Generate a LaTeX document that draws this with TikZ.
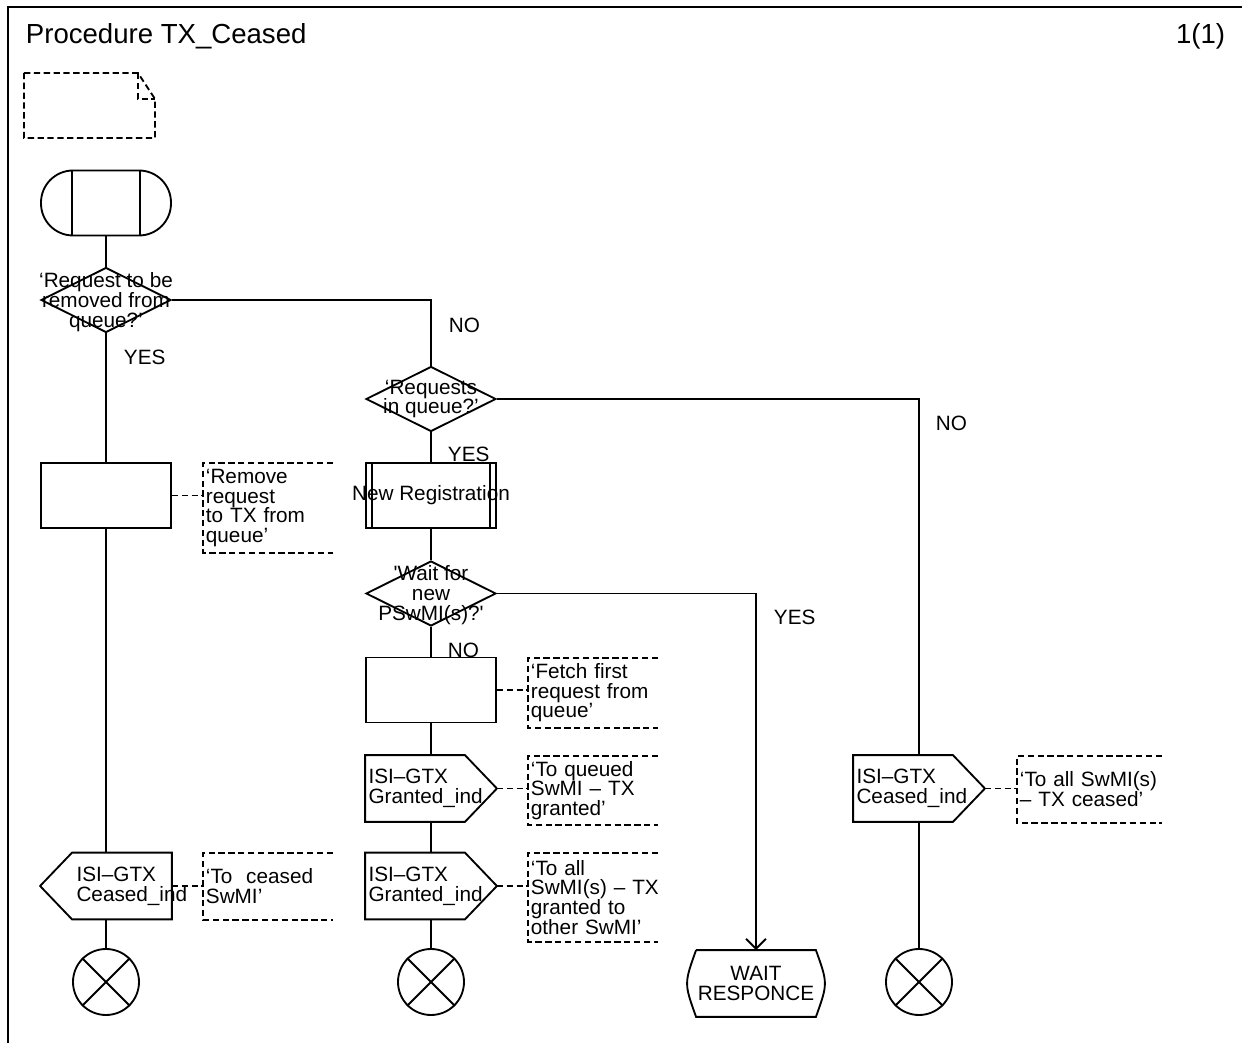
\documentclass[tikz,border=0pt]{standalone}
\usepackage{fontspec}
\setmainfont{Liberation Sans}
\usetikzlibrary{shapes.geometric,arrows.meta}

\begin{document}
\begin{tikzpicture}[x=0.02cm, y=-0.02cm, line width=1.05pt,
  every node/.style={font=\fontsize{11.8}{11.2}\selectfont}]
  \tikzstyle{task}=[rectangle, draw, minimum width=2.6cm, minimum height=1.3cm, inner sep=0pt]
  \tikzstyle{decision}=[diamond, draw, minimum width=2.6cm, minimum height=1.3cm, inner sep=0pt]
  \tikzstyle{dtext}=[align=center, inner sep=0pt]
  \tikzstyle{sig}=[rectangle, minimum width=2.6cm, minimum height=1.3cm, text width=2.5cm,
                   inner xsep=0.05cm, inner ysep=0pt, align=left]
  \tikzstyle{note}=[rectangle, anchor=north west, text width=2.9cm, inner xsep=0.04cm,
                    inner ysep=0pt, align=left]
  \tikzstyle{stopper}=[circle, draw, minimum size=1.32cm, inner sep=0pt]
  \tikzstyle{yesno}=[anchor=west, inner sep=0pt]
  \tikzstyle{conn}=[dash pattern=on 3.6pt off 2pt]
  \tikzstyle{flow}=[-{Straight Barb[length=0.2cm, width=0.4cm]}]

  \useasboundingbox (0,0) rectangle (1242,1043);

  % Moldura e titulo
  \draw[line width=1.3pt] (8,1043) -- (8,7) -- (1242,7);
  \node[anchor=base west, inner sep=0pt, font=\fontsize{15.7}{18}\selectfont] (title) at (25,44) {Procedure TX\_Ceased};
  \node[anchor=base east, inner sep=0pt, font=\fontsize{15.7}{18}\selectfont] (page) at (1226,44) {1(1)};

  % Simbolo de texto
  \draw[conn] (24,73) -- (138,73) -- (155,99) -- (155,138) -- (24,138) -- cycle;
  \draw[conn] (138,73) -- (138,99) -- (155,99);

  % Inicio
  \node[task, rounded corners=0.64cm] (begin) at (106,203) {};
  \draw ([xshift=0.64cm]begin.north west) -- ([xshift=0.64cm]begin.south west);
  \draw ([xshift=-0.64cm]begin.north east) -- ([xshift=-0.64cm]begin.south east);

  % Coluna 1
  \node[decision] (ask1) at (106,300) {};
  \node[dtext] (ask1txt) at (106,302) {‘Request to be\\removed from\\queue?’};
  \node[yesno] (yes1) at (123,357) {YES};
  \node[task] (remove) at (106,495.5) {};
  \node[note, minimum height=1.76cm] (removenote) at (203,463) {‘Remove\\request\\to TX from\\queue’};
  \node[sig] (ceased1) at (106,886) {\hspace*{0.66cm}ISI–GTX\\\hspace*{0.66cm}Ceased\_ind};
  \node[note, minimum height=1.3cm] (ceasednote) at (203,853) {‘To\ \ ceased\\SwMI’};
  \node[stopper] (end1) at (106,982) {};

  \draw (ceased1.west) -- ([xshift=0.64cm]ceased1.north west) -- (ceased1.north east)
    -- (ceased1.south east) -- ([xshift=0.64cm]ceased1.south west) -- cycle;
  \draw (end1.north west) -- (end1.south east) (end1.north east) -- (end1.south west);

  \draw (begin.south) -- (ask1.north);
  \draw (ask1.south) -- (remove.north);
  \draw (remove.south) -- (ceased1.north);
  \draw (ceased1.south) -- (end1.north);

  % Coluna 2
  \node[yesno] (no1) at (448,325) {NO};
  \node[decision] (ask2) at (431,399) {};
  \node[dtext] (ask2txt) at (ask2) {‘Requests\\in queue?’};
  \node[yesno] (yes2) at (447,454) {YES};
  \node[task] (newreg) at (431,495.5) {\makebox[0pt]{New Registration}};
  \draw ([xshift=0.13cm]newreg.north west) -- ([xshift=0.13cm]newreg.south west);
  \draw ([xshift=-0.13cm]newreg.north east) -- ([xshift=-0.13cm]newreg.south east);
  \node[decision] (ask3) at (431,593.5) {};
  \node[dtext] (ask3txt) at (431,595) {\textquotesingle Wait for\\new\\PSwMI(s)?\textquotesingle};
  \node[yesno] (no2) at (447,650) {NO};
  \node[task] (fetch) at (431,690) {};
  \node[note, minimum height=1.36cm] (fetchnote) at (528,658) {‘Fetch first\\request from\\queue’};
  \node[sig] (granted1) at (431,788.5) {ISI–GTX\\Granted\_ind};
  \node[note, minimum height=1.34cm] (queuednote) at (528,756) {‘To queued\\SwMI – TX\\granted’};
  \node[sig] (granted2) at (431,886) {ISI–GTX\\Granted\_ind};
  \node[note, minimum height=1.74cm] (othernote) at (528,853) {‘To all\\SwMI(s) – TX\\granted to\\other SwMI’};
  \node[stopper] (end2) at (431,982) {};

  \foreach \s in {granted1, granted2}
    \draw (\s.north west) -- ([xshift=-0.64cm]\s.north east) -- (\s.east)
      -- ([xshift=-0.64cm]\s.south east) -- (\s.south west) -- cycle;
  \draw (end2.north west) -- (end2.south east) (end2.north east) -- (end2.south west);

  \draw (ask1.east) -| (ask2.north);
  \draw (ask2.south) -- (newreg.north);
  \draw (newreg.south) -- (ask3.north);
  \draw (ask3.south) -- (fetch.north);
  \draw (fetch.south) -- (granted1.north);
  \draw (granted1.south) -- (granted2.north);
  \draw (granted2.south) -- (end2.north);

  % Coluna 3
  \node[yesno] (yes3) at (773,617) {YES};
  \node[rectangle, minimum width=2.6cm, minimum height=1.3cm, align=center, inner sep=0pt]
    (wait) at (756,983.5) {WAIT\\RESPONCE};
  \draw ([xshift=0.12cm]wait.north west) -- ([xshift=-0.12cm]wait.north east)
    .. controls ([xshift=0.12cm]wait.east) .. ([xshift=-0.12cm]wait.south east)
    -- ([xshift=0.12cm]wait.south west)
    .. controls ([xshift=-0.12cm]wait.west) .. ([xshift=0.12cm]wait.north west);
  \draw[flow] (ask3.east) -| (wait.north);

  % Coluna 4
  \node[yesno] (no3) at (935,423) {NO};
  \node[sig] (ceased2) at (919,788.5) {ISI–GTX\\Ceased\_ind};
  \node[note, minimum height=1.3cm] (allnote) at (1017,756) {‘To all SwMI(s)\\– TX ceased’};
  \node[stopper] (end4) at (919,982) {};

  \draw (ceased2.north west) -- ([xshift=-0.64cm]ceased2.north east) -- (ceased2.east)
    -- ([xshift=-0.64cm]ceased2.south east) -- (ceased2.south west) -- cycle;
  \draw (end4.north west) -- (end4.south east) (end4.north east) -- (end4.south west);

  \draw (ask2.east) -| (ceased2.north);
  \draw (ceased2.south) -- (end4.north);

  % Comentarios tracejados
  \foreach \n/\w in {removenote/2.6cm, ceasednote/2.6cm, fetchnote/2.6cm, queuednote/2.6cm,
                     othernote/2.6cm, allnote/2.9cm}
    \draw[conn] ([xshift=\w]\n.north west) -- (\n.north west) -- (\n.south west)
      -- ([xshift=\w]\n.south west);
  \draw[conn] (remove.east) -- (remove.east -| removenote.west);
  \draw[conn] (ceased1.east) -- (ceased1.east -| ceasednote.west);
  \draw[conn] (fetch.east) -- (fetch.east -| fetchnote.west);
  \draw[conn] (granted1.east) -- (granted1.east -| queuednote.west);
  \draw[conn] (granted2.east) -- (granted2.east -| othernote.west);
  \draw[conn] (ceased2.east) -- (ceased2.east -| allnote.west);
\end{tikzpicture}
\end{document}
